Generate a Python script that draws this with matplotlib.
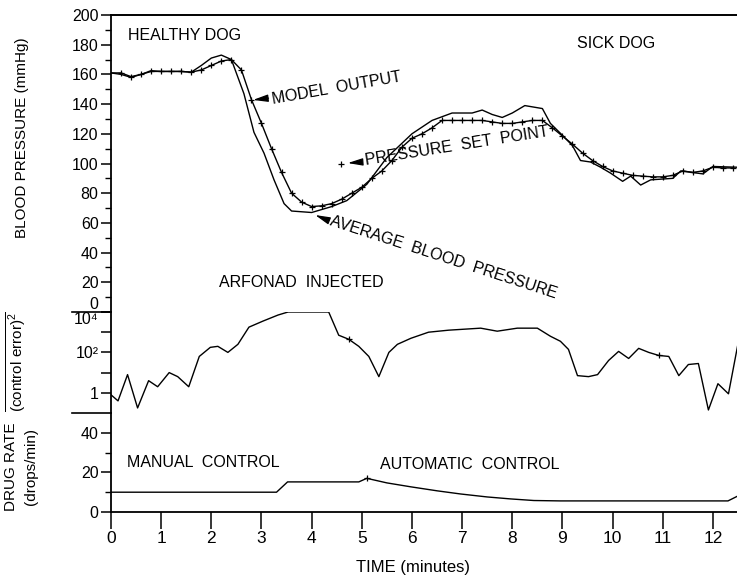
import numpy as np
import matplotlib
matplotlib.use('Agg')
import matplotlib.pyplot as plt

plt.rcParams['font.family'] = ['Liberation Sans', 'DejaVu Sans']
plt.rcParams['mathtext.fontset'] = 'custom'
plt.rcParams['mathtext.rm'] = 'Liberation Sans'
plt.rcParams['mathtext.it'] = 'Liberation Sans:italic'

# ---------------- data ----------------
# model output (line with + marks), mmHg
model_t = np.arange(0, 12.41, 0.2)
model_bp = [161, 161, 158.5, 160, 162, 162, 162, 162, 161.5, 163,
            166, 169, 170, 163, 143, 127, 110, 94, 80, 74,
            71, 71.5, 73, 76, 80, 84, 90, 95, 102, 111,
            117, 120, 124, 129, 129, 129, 129, 129, 128, 127,
            127, 128, 129, 129, 124, 118.5, 113, 107, 102, 98,
            95, 93.5, 92, 91.5, 91, 91, 92, 95, 94, 95,
            97.5, 97, 97]

# average blood pressure, mmHg
avg_t = [0, 0.2, 0.4, 0.6, 0.8, 1.0, 1.2, 1.4, 1.6, 1.8, 2.0, 2.2, 2.4,
         2.65, 2.85, 3.05, 3.25, 3.45, 3.6, 4.0, 4.4, 4.7, 5.1, 5.5, 6.0,
         6.4, 6.8, 7.2, 7.4, 7.6, 7.8, 8.0, 8.25, 8.6, 8.76, 9.0, 9.2,
         9.36, 9.56, 9.76, 9.96, 10.2, 10.36, 10.56, 10.76, 11.2, 11.36,
         11.8, 12.0, 12.48]
avg_bp = [161, 160, 158, 160, 162.5, 162, 162, 162, 161.5, 166, 171, 173, 170,
          147, 121, 107, 89, 73, 68, 67, 71, 75, 86, 104, 120,
          129, 134, 134, 136, 133, 131, 134, 139, 137, 127, 119, 112,
          102, 101, 97.5, 93.5, 88, 91.5, 85.5, 89, 90, 95,
          93, 98, 97.5]

set_point_t = [4.58]
set_point_bp = [99.7]

# mean (control error)^2, given as log10 of the value
err_t = [0.0, 0.14, 0.33, 0.53, 0.75, 0.93, 1.16, 1.33, 1.55, 1.76, 1.98,
         2.13, 2.33, 2.53, 2.75, 3.03, 3.33, 3.53, 3.78, 4.34, 4.54, 4.74,
         4.94, 5.14, 5.34, 5.54, 5.71, 5.98, 6.33, 6.73, 7.37, 7.7, 8.1,
         8.5, 8.76, 8.96, 9.12, 9.3, 9.52, 9.7, 9.92, 10.12, 10.32, 10.52,
         10.72, 10.92, 11.12, 11.32, 11.51, 11.71, 11.91, 12.1, 12.31, 12.49]
err_log = [-0.1, -0.4, 0.9, -0.75, 0.6, 0.3, 1.0, 0.8, 0.3, 1.8, 2.25,
           2.3, 2.0, 2.4, 3.25, 3.55, 3.85, 4.0, 4.0, 4.0, 2.85, 2.65,
           2.3, 1.8, 0.8, 2.0, 2.4, 2.7, 3.0, 3.1, 3.2, 3.05, 3.2,
           3.2, 2.8, 2.55, 2.15, 0.85, 0.8, 0.9, 1.6, 2.05, 1.7, 2.2,
           2.0, 1.85, 1.8, 0.85, 1.4, 1.45, -0.85, 0.45, -0.05, 2.3]
err_marks = [21, 45]

# drug rate, drops/min
drug_t = [0, 3.3, 3.52, 4.94, 5.1, 5.5, 5.98, 6.5, 6.97, 7.5, 7.97, 8.43,
          8.96, 12.3, 12.49]
drug_rate = [10, 10, 15.2, 15.2, 17, 14.7, 12.7, 10.7, 9.1, 7.6, 6.6, 5.8,
             5.6, 5.6, 8]
drug_marks = [4]

time_ticks = list(range(13))
time_labels = [str(t) for t in time_ticks]

# ---------------- figure ----------------
fig = plt.figure(figsize=(7.37, 5.75), dpi=100)
W, H = 737.0, 575.0
x0 = 111 / W
ax_top = fig.add_axes([x0, 1 - 312 / H, 1 - x0, 297 / H])
ax_mid = fig.add_axes([x0, 1 - 413 / H, 1 - x0, 101 / H], sharex=ax_top)
ax_bot = fig.add_axes([x0, 1 - 512 / H, 1 - x0, 99 / H], sharex=ax_top)

lw = 1.0
k = 'black'
fs = 11.5
mk = dict(marker='+', ms=4.5, mew=0.9)

# top: blood pressure
ax_top.plot(avg_t, avg_bp, color=k, lw=lw)
ax_top.plot(model_t, model_bp, color=k, lw=lw, markevery=slice(1, None), **mk)
ax_top.plot(set_point_t, set_point_bp, ls='none', color=k, **mk)
ax_top.set_ylim(0, 200)
ax_top.set_yticks(range(0, 201, 20))
ax_top.set_yticks(range(10, 200, 20), minor=True)

ax_top.text(0.34, 186, 'HEALTHY DOG', fontsize=fs, va='center')
ax_top.text(9.29, 181, 'SICK DOG', fontsize=fs, va='center')
ax_top.text(2.15, 20.2, 'ARFONAD  INJECTED', fontsize=fs, va='center')

arrow = dict(arrowstyle='-|>,head_length=0.9,head_width=0.22', color=k,
             lw=0.9, shrinkA=0, shrinkB=0)
ax_top.annotate('', xy=(2.83, 142.8), xytext=(3.14, 144), arrowprops=arrow)
ax_top.text(3.22, 143, 'MODEL  OUTPUT', fontsize=fs, rotation=10,
            rotation_mode='anchor', ha='left', va='center')
ax_top.annotate('', xy=(4.72, 100.3), xytext=(5.0, 101), arrowprops=arrow)
ax_top.text(5.06, 102, 'PRESSURE  SET  POINT', fontsize=fs, rotation=9,
            rotation_mode='anchor', ha='left', va='center')
ax_top.annotate('', xy=(4.07, 65.3), xytext=(4.31, 62), arrowprops=arrow)
ax_top.text(4.38, 61.5, 'AVERAGE  BLOOD  PRESSURE', fontsize=fs, rotation=-18,
            rotation_mode='anchor', ha='left', va='center')

ax_top.set_ylabel('BLOOD PRESSURE (mmHg)', fontsize=11)
ax_top.yaxis.set_label_coords(-0.131, 0.586)

# middle: control error, log scale
ax_mid.plot(err_t, np.power(10.0, err_log), color=k, lw=lw,
            markevery=err_marks, **mk)
ax_mid.set_yscale('log')
ax_mid.set_ylim(0.1, 1e4)
ax_mid.set_yticks([1, 10, 100, 1000, 1e4])
ax_mid.set_yticklabels(['1', '', '10²', '', '10⁴'])
ax_mid.yaxis.set_minor_locator(matplotlib.ticker.NullLocator())
for yv in (1e4, 0.1):
    ax_mid.axhline(yv, xmin=-0.062, xmax=0, color=k, lw=1.2, clip_on=False)
ax_mid.set_ylabel(r'$\overline{\mathrm{(control\ error)}^{2}}$', fontsize=11)
ax_mid.yaxis.set_label_coords(-0.133, 0.51)

# bottom: drug rate
ax_bot.plot(drug_t, drug_rate, color=k, lw=lw, markevery=drug_marks, **mk)
ax_bot.set_ylim(0, 50)
ax_bot.set_yticks([0, 20, 40])
ax_bot.set_yticks([10, 30], minor=True)
ax_bot.text(0.32, 24.8, 'MANUAL  CONTROL', fontsize=fs, va='center')
ax_bot.text(5.36, 23.8, 'AUTOMATIC  CONTROL', fontsize=fs, va='center')
ax_bot.set_ylabel('DRUG RATE\n(drops/min)', fontsize=11, linespacing=1.6)
ax_bot.yaxis.set_label_coords(-0.116, 0.46)
ax_bot.set_xlabel('TIME (minutes)', fontsize=12)
ax_bot.xaxis.set_label_coords(0.482, -0.485)

ax_bot.set_xlim(0, 12.48)
ax_bot.set_xticks(time_ticks)
ax_bot.set_xticklabels(time_labels)

# spines and ticks
for ax in (ax_top, ax_mid, ax_bot):
    ax.patch.set_visible(False)
    ax.spines['right'].set_visible(False)
    ax.spines['left'].set_linewidth(1.3)
    ax.tick_params(axis='y', which='major', direction='out', length=7,
                   width=1.1, labelsize=fs, pad=2)
    ax.tick_params(axis='y', which='minor', direction='out', length=4,
                   width=1.0)
for ax in (ax_top, ax_mid):
    ax.spines['bottom'].set_visible(False)
    ax.tick_params(axis='x', which='both', bottom=False, labelbottom=False)
ax_mid.spines['top'].set_visible(False)
ax_bot.spines['top'].set_visible(False)
ax_top.spines['top'].set_linewidth(1.4)
ax_bot.spines['bottom'].set_linewidth(1.3)
ax_bot.tick_params(axis='x', direction='out', length=12, width=1.1,
                   labelsize=fs + 1, pad=2)

# keep "0" of the pressure axis and "10^4" apart
ax_top.get_yticklabels()[0].set_va('bottom')
ax_mid.get_yticklabels()[-1].set_va('top')

fig.savefig('out.png', dpi=100)
